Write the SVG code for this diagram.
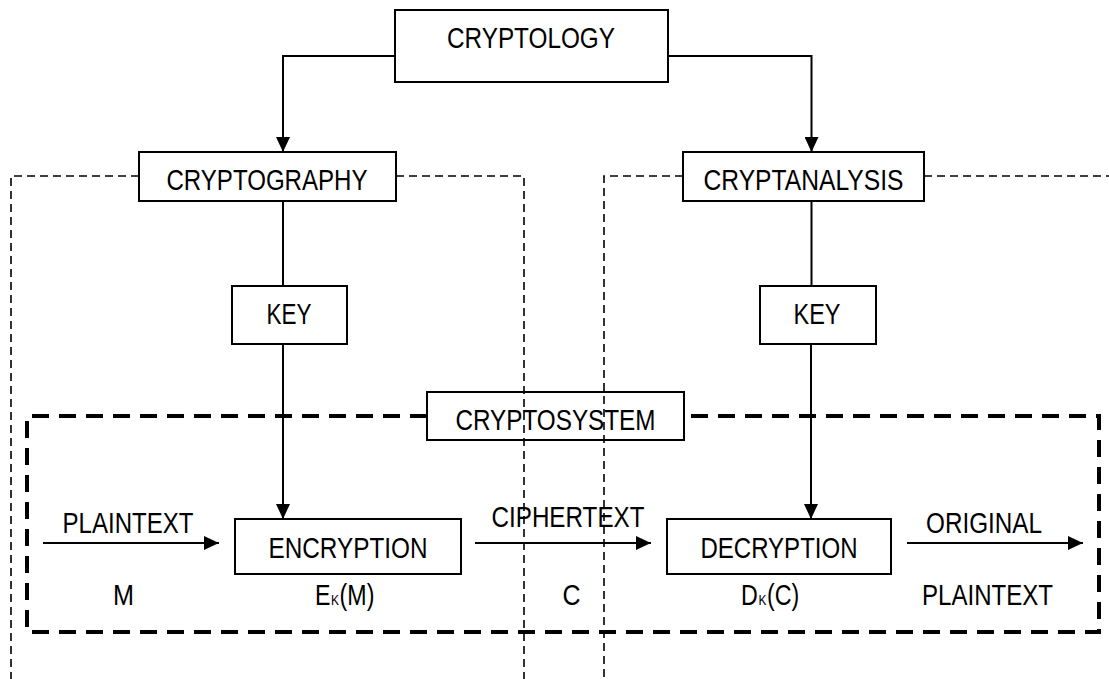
<svg xmlns="http://www.w3.org/2000/svg" width="1109" height="679" viewBox="0 0 1109 679">
<style>
.box{fill:none;stroke:#000;stroke-width:2}
.t{font-family:"Liberation Sans",Arial,sans-serif;font-size:29px;fill:#000;text-anchor:middle}
.ts{font-family:"Liberation Sans",Arial,sans-serif;font-size:29px;fill:#000}
.sub{font-family:"Liberation Sans",Arial,sans-serif;font-size:15px;fill:#000}
.ln{fill:none;stroke:#000;stroke-width:2}
.dash{fill:none;stroke:#000;stroke-width:1.6;stroke-dasharray:8 5}
.thick{fill:none;stroke:#000;stroke-width:4;stroke-dasharray:17 10}
</style>
<defs>
<marker id="ah" viewBox="0 0 15 14" refX="15" refY="7" markerWidth="15" markerHeight="14" markerUnits="userSpaceOnUse" orient="auto">
<path d="M0,0 L15,7 L0,14 Z" fill="#000"/>
</marker>
</defs>
<rect width="1109" height="679" fill="#fff"/>
<g id="regions">
<path class="dash" d="M139,176 H11 V679"/>
<path class="dash" d="M396,176 H524 V679"/>
<path class="dash" d="M683,176 H604 V679"/>
<path class="dash" d="M924,176 H1109"/>
<path class="thick" d="M427,416 H27 V632 H1099 V416 H684"/>
</g>
<g id="connectors">
<path class="ln" d="M395,56 H283 V152" marker-end="url(#ah)"/>
<path class="ln" d="M668,56 H811.5 V152" marker-end="url(#ah)"/>
<path class="ln" d="M283,201 V286"/>
<path class="ln" d="M283,344 V519" marker-end="url(#ah)"/>
<path class="ln" d="M811.5,201 V286"/>
<path class="ln" d="M811,344 V519" marker-end="url(#ah)"/>
<path class="ln" d="M43,543 H219" marker-end="url(#ah)"/>
<path class="ln" d="M475,543 H651" marker-end="url(#ah)"/>
<path class="ln" d="M907,543 H1083" marker-end="url(#ah)"/>
</g>
<g id="cryptology">
<rect class="box" x="395" y="10" width="273" height="72"/>
<text class="t" x="531" y="48" textLength="168" lengthAdjust="spacingAndGlyphs">CRYPTOLOGY</text>
</g>
<g id="cryptography">
<rect class="box" x="139" y="152" width="257" height="49"/>
<text class="t" x="267" y="190" textLength="201" lengthAdjust="spacingAndGlyphs">CRYPTOGRAPHY</text>
</g>
<g id="cryptanalysis">
<rect class="box" x="683" y="152" width="241" height="49"/>
<text class="t" x="803.5" y="190" textLength="200" lengthAdjust="spacingAndGlyphs">CRYPTANALYSIS</text>
</g>
<g id="key1">
<rect class="box" x="232" y="286" width="115" height="58"/>
<text class="t" x="289" y="324" textLength="45" lengthAdjust="spacingAndGlyphs">KEY</text>
</g>
<g id="key2">
<rect class="box" x="760" y="286" width="116" height="58"/>
<text class="t" x="817" y="324" textLength="47" lengthAdjust="spacingAndGlyphs">KEY</text>
</g>
<g id="cryptosystem">
<rect class="box" x="427" y="392" width="257" height="48"/>
<text class="t" x="555.5" y="430" textLength="200" lengthAdjust="spacingAndGlyphs">CRYPTOSYSTEM</text>
</g>
<g id="encryption">
<rect class="box" x="235" y="519" width="226" height="55"/>
<text class="t" x="348" y="558" textLength="159" lengthAdjust="spacingAndGlyphs">ENCRYPTION</text>
</g>
<g id="decryption">
<rect class="box" x="667" y="519" width="224" height="55"/>
<text class="t" x="779" y="558" textLength="157" lengthAdjust="spacingAndGlyphs">DECRYPTION</text>
</g>
<g id="labels">
<text class="t" x="128" y="533" textLength="131" lengthAdjust="spacingAndGlyphs">PLAINTEXT</text>
<text class="t" x="568" y="527" textLength="153" lengthAdjust="spacingAndGlyphs">CIPHERTEXT</text>
<text class="t" x="984" y="533" textLength="116" lengthAdjust="spacingAndGlyphs">ORIGINAL</text>
<text class="t" x="123.5" y="605" textLength="21" lengthAdjust="spacingAndGlyphs">M</text>
<text class="t" x="571.5" y="605" textLength="18" lengthAdjust="spacingAndGlyphs">C</text>
<text class="t" x="987.5" y="605" textLength="131" lengthAdjust="spacingAndGlyphs">PLAINTEXT</text>
<g transform="scale(0.8,1)">
<text class="ts" x="393.75" y="605">E</text>
<text class="sub" x="413.8" y="605">K</text>
<text class="ts" x="424.5" y="605">(M)</text>
<text class="ts" x="926.25" y="605">D</text>
<text class="sub" x="948" y="605">K</text>
<text class="ts" x="958.7" y="605">(C)</text>
</g>
</g>
</svg>
